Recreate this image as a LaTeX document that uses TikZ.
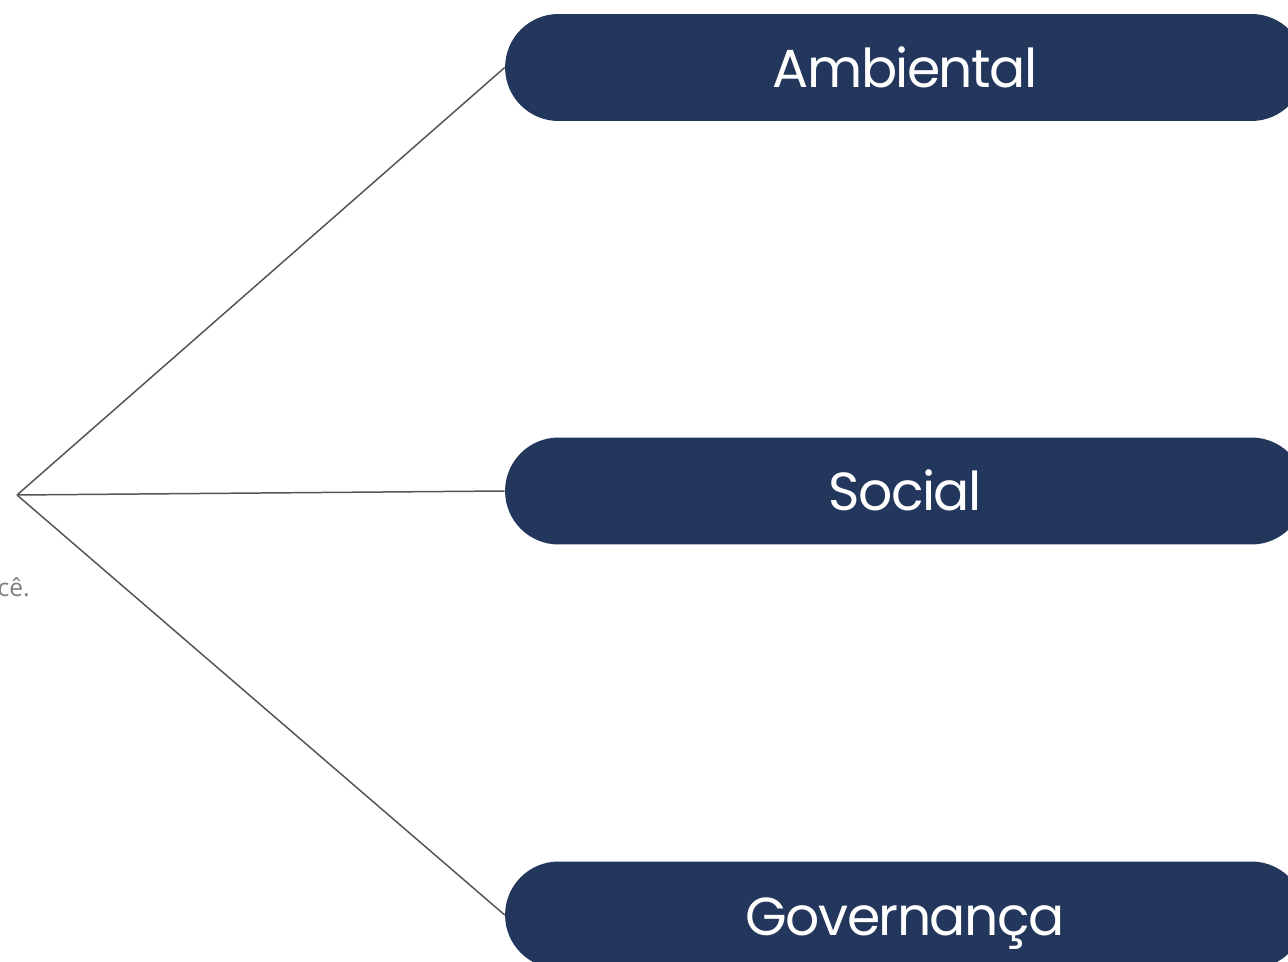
\documentclass[tikz,border=0pt]{standalone}
\usepackage{fontspec}
\setmainfont{Poppins}
\newfontfamily\notefont{Open Sans}
\usepackage{tikz}
\definecolor{azul}{RGB}{35,54,92}
\definecolor{linha}{RGB}{85,85,85}
\tikzset{
  pilar/.style={fill=azul, rounded corners=1.07cm, minimum width=16cm, minimum height=2.14cm,
    inner sep=0pt, text=white, font=\fontsize{30.5}{30.5}\selectfont\addfontfeature{LetterSpace=-3},
    text height=0.8cm, text depth=0pt},
  ramo/.style={draw=linha, line width=0.85pt}
}

\begin{document}
\begin{tikzpicture}[x=0.02cm, y=-0.02cm]
  \useasboundingbox (0,0) rectangle (1288,962);
  \clip (0,0) rectangle (1288,962);
  % \draw[thick] (0,0) rectangle (1288,962);
  \node[pilar] (amb) at (905,67.5) {Ambiental};
  \node[pilar] (soc) at (905,491) {Social};
  \node[pilar] (gov) at (905,915) {Governança};

  \coordinate (hub) at (17,495);
  \draw[ramo] (hub) -- (amb.west);
  \draw[ramo] (hub) -- (soc.west);
  \draw[ramo] (hub) -- (gov.west);

  \node[anchor=base east, text=gray, font=\notefont\fontsize{14}{14}\selectfont, inner sep=0pt] (nota) at (30,596) {você.};
\end{tikzpicture}
\end{document}
